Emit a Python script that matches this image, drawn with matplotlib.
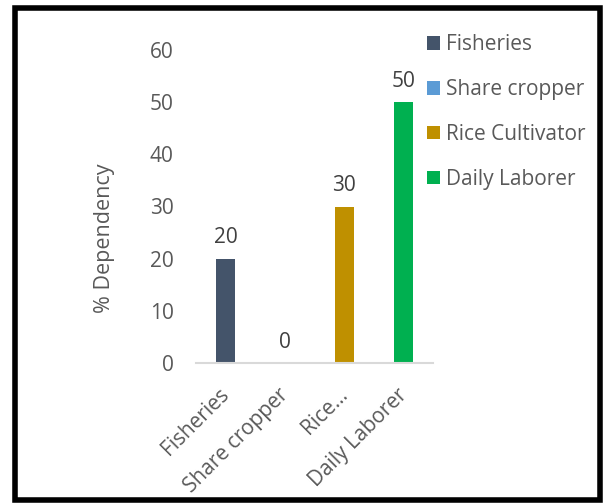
import matplotlib
matplotlib.use("Agg")
import matplotlib.pyplot as plt
import matplotlib.transforms as mtransforms
from matplotlib.patches import Rectangle, Patch

# Occupation groups and their dependency share
categories = ["Fisheries", "Share cropper", "Rice Cultivator", "Daily Laborer"]
tick_labels = ["Fisheries", "Share cropper", "Rice\u2026", "Daily Laborer"]
dependency = [20, 0, 30, 50]
colors = ["#44546A", "#5B9BD5", "#BF9000", "#00B050"]

plt.rcParams['font.family'] = ['Open Sans', 'DejaVu Sans']
txt = "#595959"
fs = 15

fig = plt.figure(figsize=(6.05, 5.03), dpi=100)
fig.patch.set_facecolor("white")

# outer black frame
fig.patches.append(Rectangle((14.5 / 605, 1 - 500 / 503), 585 / 605, 492 / 503,
                             transform=fig.transFigure, fill=False,
                             edgecolor="black", linewidth=4))

ax = fig.add_axes([196 / 605, 1 - 363 / 503, 237 / 605, 313 / 503])
x = range(len(categories))
bars = ax.bar(x, dependency, width=0.32, color=colors)

for xi, v in zip(x, dependency):
    ax.text(xi, v + 2.0, str(v), ha="center", va="bottom", fontsize=fs, color="#404040")

ax.set_xlim(-0.5, 3.5)
ax.set_ylim(0, 60)
ax.set_yticks(range(0, 61, 10))
ax.tick_params(axis="y", length=0, labelsize=fs, labelcolor=txt, pad=16)
ax.tick_params(axis="x", length=0, labelsize=fs, labelcolor=txt, pad=6)
ax.set_xticks(list(x))
ax.set_xticklabels(tick_labels, rotation=45, ha="right", rotation_mode="anchor")
# nudge the slanted category names down and left
shift = mtransforms.ScaledTranslation(-7 / 100, -13 / 100, fig.dpi_scale_trans)
for lbl in ax.get_xticklabels():
    lbl.set_transform(lbl.get_transform() + shift)

for s in ["top", "right", "left"]:
    ax.spines[s].set_visible(False)
ax.spines["bottom"].set_color("#D9D9D9")
ax.spines["bottom"].set_linewidth(1.5)

ax.set_ylabel("% Dependency", fontsize=15.5, color=txt, labelpad=25, y=0.40)

handles = [Patch(facecolor=c, label=n) for c, n in zip(colors, categories)]
fig.legend(handles=handles, loc="upper left", bbox_to_anchor=(419 / 605, 1 - 26 / 503),
           frameon=False, fontsize=fs, labelcolor=txt, handlelength=0.62,
           handleheight=0.62, handletextpad=0.3, labelspacing=1.14, borderaxespad=0)

fig.savefig("out.png", dpi=100, facecolor="white")
